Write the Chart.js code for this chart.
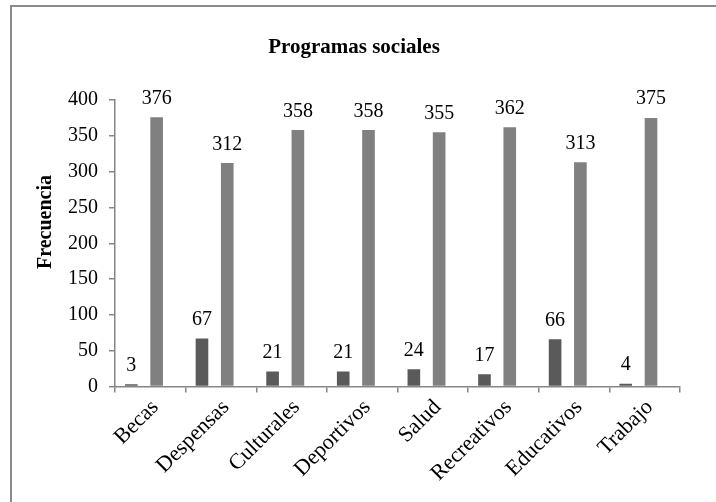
<!DOCTYPE html>
<html>
<head>
<meta charset="utf-8">
<script src="https://cdn.jsdelivr.net/npm/chart.js@4.4.1/dist/chart.umd.min.js"></script>
<style>
  html, body { margin: 0; padding: 0; background: #ffffff; }
  #wrap { width: 716px; height: 502px; }
</style>
</head>
<body>
<div id="wrap"><canvas id="chart" width="716" height="502"></canvas></div>
<script>
// Categories and counts per social programme
const categories = ['Becas', 'Despensas', 'Culturales', 'Deportivos', 'Salud', 'Recreativos', 'Educativos', 'Trabajo'];
const seriesDark = [3, 67, 21, 21, 24, 17, 66, 4];
const seriesLight = [376, 312, 358, 358, 355, 362, 313, 375];
const yTickValues = [0, 50, 100, 150, 200, 250, 300, 350, 400];

const chartTitle = 'Programas sociales';
const yAxisTitle = 'Frecuencia';

const SERIF = '"Liberation Serif", "Times New Roman", serif';
const AXIS_GREY = '#868686';

// White page with the outer frame, plus the chart title and the y-axis title
const framePlugin = {
  id: 'frame',
  beforeDraw(chart) {
    const ctx = chart.ctx;
    ctx.save();
    ctx.fillStyle = '#ffffff';
    ctx.fillRect(0, 0, chart.width, chart.height);
    ctx.strokeStyle = '#8a8a8a';
    ctx.lineWidth = 2;
    ctx.strokeRect(11, 6, chart.width + 20, chart.height + 20);
    ctx.restore();
  },
  afterDraw(chart) {
    const ctx = chart.ctx;
    ctx.save();
    ctx.fillStyle = '#000000';
    ctx.textAlign = 'center';
    ctx.textBaseline = 'alphabetic';
    ctx.font = 'bold 21px ' + SERIF;
    ctx.fillText(chartTitle, 354, 53);
    ctx.translate(46, 222);
    ctx.rotate(-Math.PI / 2);
    ctx.textBaseline = 'middle';
    ctx.font = 'bold 20px ' + SERIF;
    ctx.fillText(yAxisTitle, 0, 0);
    ctx.restore();
  }
};

// Value written above every bar
const valueLabels = {
  id: 'valueLabels',
  afterDatasetsDraw(chart) {
    const ctx = chart.ctx;
    ctx.save();
    ctx.font = '20px ' + SERIF;
    ctx.fillStyle = '#000000';
    ctx.textAlign = 'center';
    ctx.textBaseline = 'alphabetic';
    chart.data.datasets.forEach((ds, i) => {
      if (!ds.data.length) return;
      const meta = chart.getDatasetMeta(i);
      meta.data.forEach((bar, j) => {
        ctx.fillText(String(ds.data[j]), bar.x, bar.y - 13.5);
      });
    });
    ctx.restore();
  }
};

new Chart(document.getElementById('chart'), {
  type: 'bar',
  data: {
    labels: categories,
    datasets: [
      { label: 'A', data: seriesDark, backgroundColor: '#5a5a5a' },
      { label: '', data: [] },
      { label: 'B', data: seriesLight, backgroundColor: '#808080' },
      { label: '', data: [] }
    ]
  },
  options: {
    responsive: false,
    animation: false,
    devicePixelRatio: 1,
    layout: { padding: { top: 100, right: 36, left: 0, bottom: 0 } },
    datasets: {
      bar: { categoryPercentage: 0.716, barPercentage: 1.0, borderWidth: 0 }
    },
    plugins: {
      legend: { display: false },
      title: { display: false },
      tooltip: { enabled: false }
    },
    scales: {
      x: {
        grid: { display: true, drawOnChartArea: false, color: AXIS_GREY, tickLength: 6, offset: true, lineWidth: 1.5 },
        border: { color: AXIS_GREY, width: 1.5 },
        ticks: {
          font: { family: SERIF, size: 22 },
          color: '#000000',
          maxRotation: 45,
          minRotation: 45,
          autoSkip: false,
          padding: 2,
          labelOffset: 5
        },
        afterFit(scale) { scale.height = 502 - 386.5; }
      },
      y: {
        min: 0,
        max: 400,
        afterBuildTicks(scale) { scale.ticks = yTickValues.map(v => ({ value: v })); },
        grid: { display: true, drawOnChartArea: false, color: AXIS_GREY, tickLength: 6, lineWidth: 1.5 },
        border: { color: AXIS_GREY, width: 1.5 },
        ticks: {
          font: { family: SERIF, size: 20 },
          color: '#000000',
          padding: 11
        },
        afterFit(scale) { scale.width = 115; }
      }
    }
  },
  plugins: [framePlugin, valueLabels]
});
</script>
</body>
</html>
